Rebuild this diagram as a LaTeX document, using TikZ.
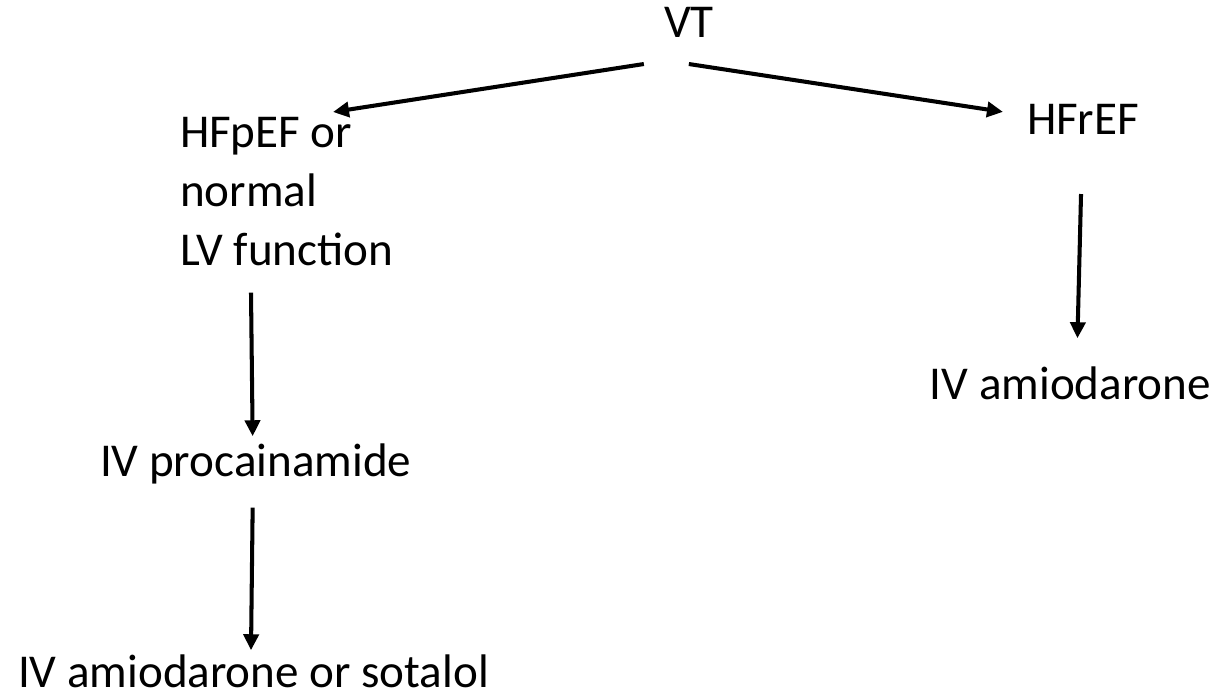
\documentclass[tikz,border=0pt]{standalone}
\usepackage{fontspec}
\setmainfont{Carlito}
\usetikzlibrary{arrows.meta}

\begin{document}
\begin{tikzpicture}[line width=1.15pt,>={Triangle[length=0.16cm,width=0.15cm]}]
\tikzset{
  lbl/.style={inner sep=0pt,font=\fontsize{13.4pt}{16.8pt}\selectfont},
  arr/.style={line width=1.15pt,->}}
\useasboundingbox (0,0) rectangle (12.2,-6.96);
% ---------- labels ----------
\node[lbl,anchor=base west] (vt) at (6.62,-0.38) {VT};
\node[lbl,anchor=north west,align=left] (hfp) at (1.78,-1.15) {HFpEF or\\normal\\LV function};
\node[lbl,anchor=base west] (hfr) at (10.25,-1.35) {HFrEF};
\node[lbl,anchor=base west] (proc) at (0.98,-4.77) {IV procainamide};
\node[lbl,anchor=base east] (amio) at (12.13,-4.00) {IV amiodarone};
\node[lbl,anchor=base west] (sot) at (0.16,-6.88) {IV amiodarone or sotalol};
% ---------- arrows ----------
\draw[arr] ([shift={(-0.45,-0.24)}]vt.south) -- ([shift={(1.55,0.03)}]hfp.north west);
\draw[arr] ([shift={(0,-0.24)}]vt.south) -- ([shift={(-0.22,0.08)}]hfr.west);
\draw[arr] ([shift={(0.73,-0.25)}]hfp.south west) -- ([shift={(-0.03,0.06)}]proc.north);
\draw[arr] ([shift={(-0.03,-0.21)}]proc.south) -- ([shift={(2.35,0.03)}]sot.north west);
\draw[arr] ([shift={(-0.02,-0.57)}]hfr.south) -- ([shift={(0.07,0.27)}]amio.north);
\end{tikzpicture}
\end{document}
